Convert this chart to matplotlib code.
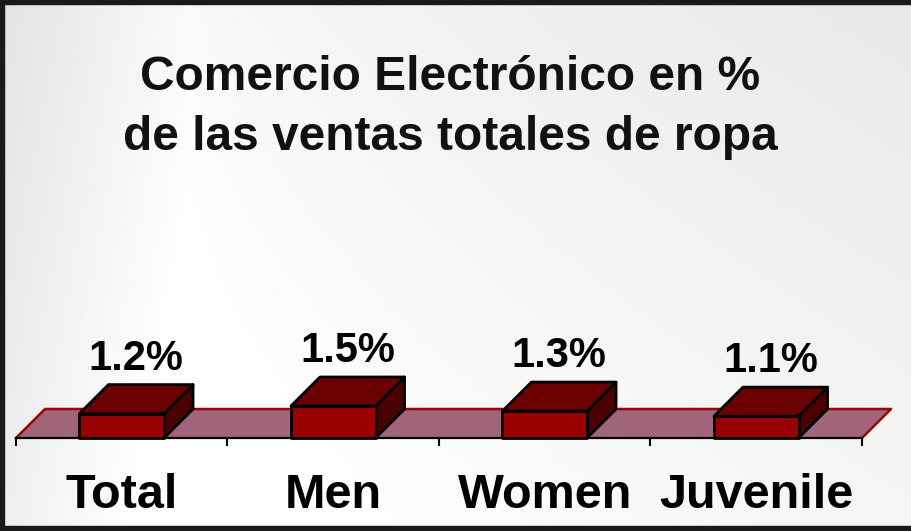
import numpy as np
import matplotlib
matplotlib.use("Agg")
import matplotlib.pyplot as plt
from matplotlib.patches import Polygon, Rectangle

# ---- data ----
categories = ["Total", "Men", "Women", "Juvenile"]
values = [1.2, 1.5, 1.3, 1.1]
value_labels = ["1.2%", "1.5%", "1.3%", "1.1%"]
title_lines = ["Comercio Electrónico en %", "de las ventas totales de ropa"]

W, H, DPI = 911, 531, 100
plt.rcParams['font.family'] = ['Liberation Sans', 'DejaVu Sans']

fig = plt.figure(figsize=(W / DPI, H / DPI), dpi=DPI)

# ---- background gradient ----
bg = fig.add_axes([0, 0, 1, 1], zorder=-10)
xs = np.linspace(0, 1, 400)
ys = np.linspace(0, 1, 200)
X, Y = np.meshgrid(xs, ys)
peak = 190 / W
horiz = np.where(X < peak, 0.905 + (1.0 - 0.905) * (X / peak),
                 1.0 - (1.0 - 0.93) * ((X - peak) / (1 - peak)) ** 0.6)
vert = 1.0 - 0.02 * (1 - Y)
img = np.clip(horiz * vert + 0.03 * Y, 0, 1)
bg.imshow(img, cmap='gray', vmin=0, vmax=1, aspect='auto', extent=[0, 1, 0, 1])
bg.set_axis_off()

# ---- border (left, top, bottom) ----
fig.patches.append(Rectangle((0, 0), 4 / W, 1, transform=fig.transFigure,
                             color='#1a1a1a', zorder=20))
fig.patches.append(Rectangle((0, 1 - 4 / H), 1, 4 / H, transform=fig.transFigure,
                             color='#1a1a1a', zorder=20))
fig.patches.append(Rectangle((0, 0), 1, 5 / H, transform=fig.transFigure,
                             color='#1a1a1a', zorder=20))

# ---- main axes ----
floor_y_px = 438
left_px, right_px = 16, 862
ax_h_px = 250
ax = fig.add_axes([left_px / W, (H - floor_y_px) / H,
                   (right_px - left_px) / W, ax_h_px / H])
ax.patch.set_alpha(0)
n = len(categories)
px_per_val = 25.4
v0 = 0.24
ax.set_xlim(0, n)
ax.set_ylim(v0, v0 + ax_h_px / px_per_val)
px_per_cat = (right_px - left_px) / n

depth_px = 29
ddx = depth_px / px_per_cat
ddy = depth_px / px_per_val

# floor
floor = Polygon([(0, v0), (n, v0), (n + ddx, v0 + ddy), (ddx, v0 + ddy)],
                closed=True, facecolor='#a0657a', edgecolor='none', zorder=1,
                clip_on=False)
ax.add_patch(floor)
ax.plot([0, ddx, n + ddx, n], [v0, v0 + ddy, v0 + ddy, v0], color='#a00000',
        lw=1.8, zorder=2, clip_on=False, solid_joinstyle='round')
ax.plot([0, n], [v0, v0], color='black', lw=1.6, zorder=2, clip_on=False)

# bars
bw = 0.40
for i, v in enumerate(values):
    c = i + 0.5
    x0, x1 = c - bw / 2, c + bw / 2
    kw = dict(closed=True, edgecolor='black', lw=2.0, joinstyle='round',
              clip_on=False)
    front = Polygon([(x0, v0), (x1, v0), (x1, v), (x0, v)],
                    facecolor='#990000', zorder=5, **kw)
    top = Polygon([(x0, v), (x1, v), (x1 + ddx, v + ddy), (x0 + ddx, v + ddy)],
                  facecolor='#6b0000', zorder=4, **kw)
    side = Polygon([(x1, v0), (x1 + ddx, v0 + ddy), (x1 + ddx, v + ddy), (x1, v)],
                   facecolor='#4a0000', zorder=4, **kw)
    ax.add_patch(side)
    ax.add_patch(top)
    ax.add_patch(front)
    ax.annotate(value_labels[i], xy=(c + ddx / 2, v + ddy), xytext=(0, 15 * 72 / DPI),
                textcoords='offset points', ha='center', va='baseline',
                fontsize=30, fontweight='bold', color='black', zorder=10)
    ax.annotate(categories[i], xy=(c, 0), xycoords=('data', 'axes fraction'),
                xytext=(0, -70 * 72 / DPI), textcoords='offset points',
                ha='center', va='baseline', fontsize=35, fontweight='bold',
                color='black', annotation_clip=False)

# ticks at category boundaries
ax.set_xticks(np.arange(n + 1))
ax.set_xticklabels([])
ax.tick_params(axis='x', direction='out', length=8 * 72 / DPI, width=1.5,
               color='black')
ax.set_yticks([])
for s in ax.spines.values():
    s.set_visible(False)

# title
fig.text(450 / W, 1 - 90 / H, title_lines[0], ha='center', va='baseline',
         fontsize=34.5, fontweight='bold', color='#111111')
fig.text(450 / W, 1 - 150 / H, title_lines[1], ha='center', va='baseline',
         fontsize=34.5, fontweight='bold', color='#111111')

fig.savefig("out.png", dpi=DPI)
